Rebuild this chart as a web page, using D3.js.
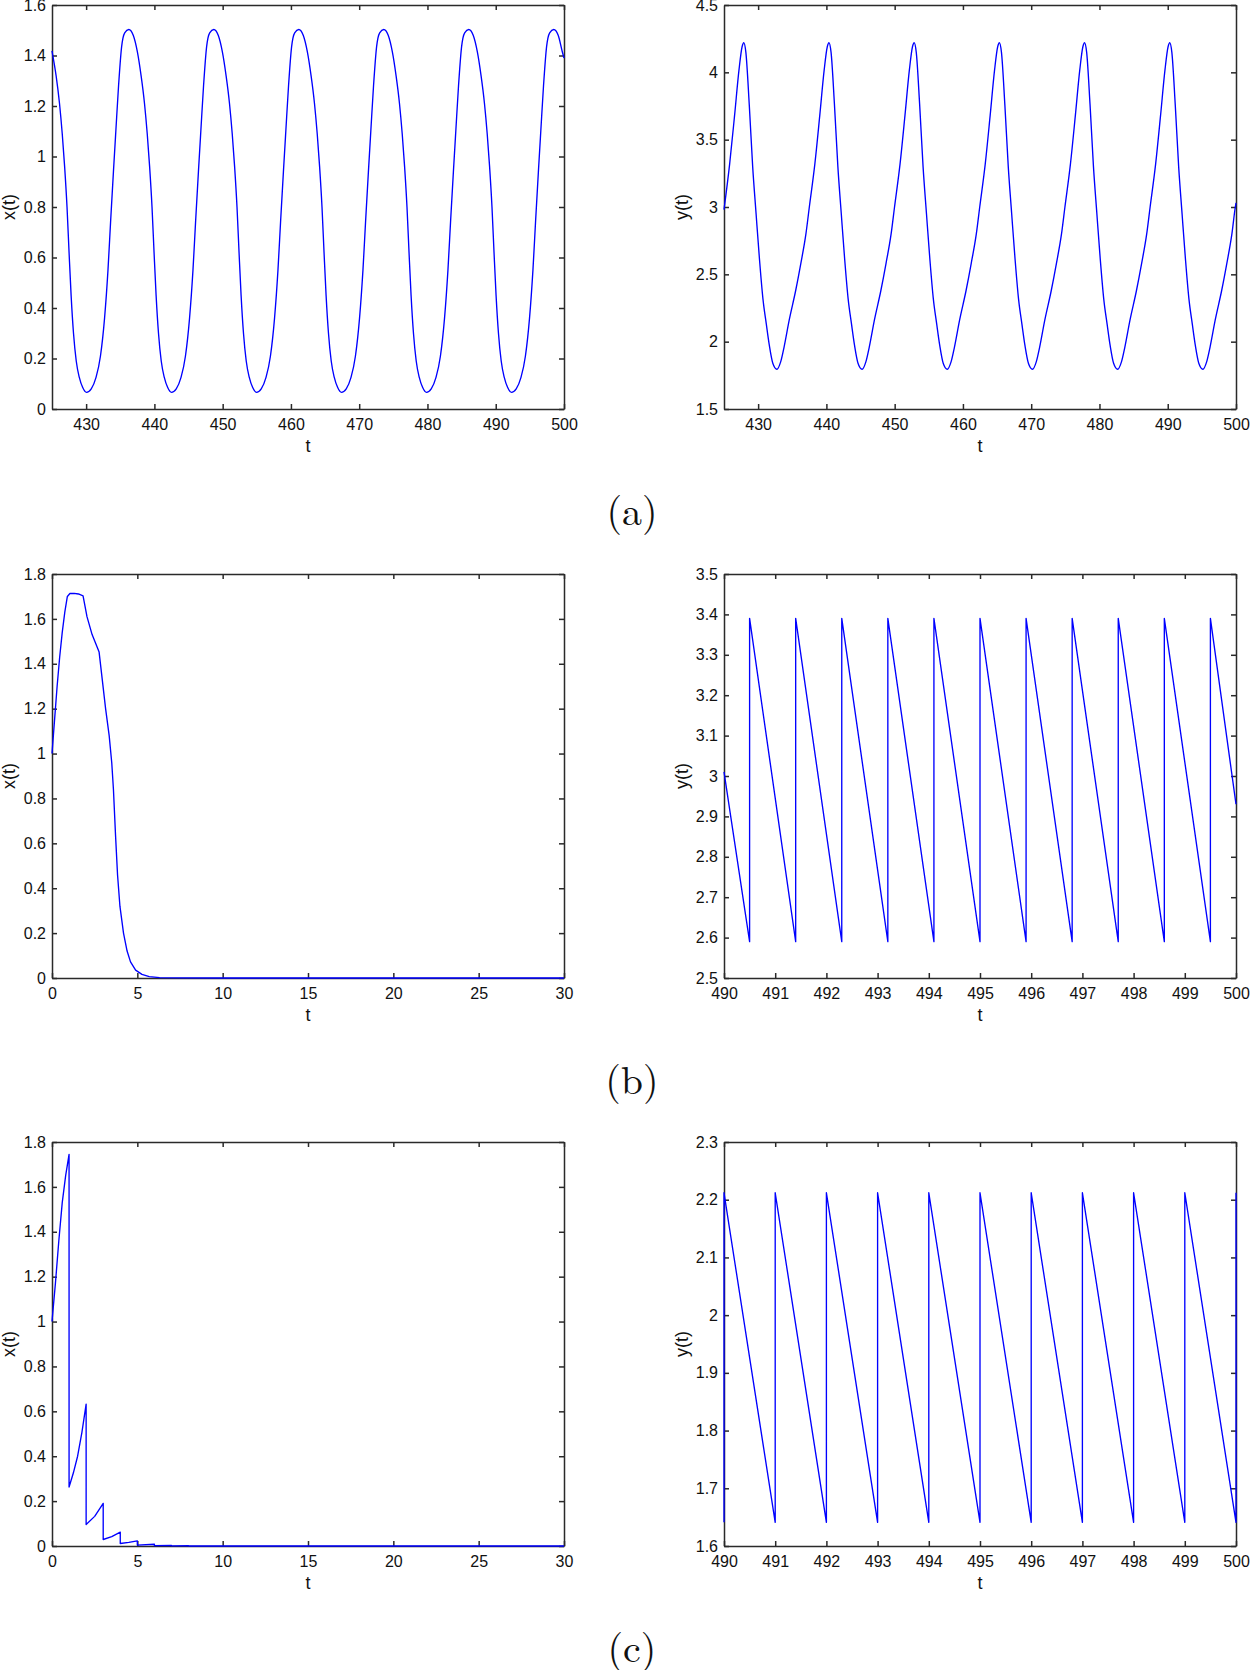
<!DOCTYPE html>
<html>
<head>
<meta charset="utf-8">
<script src="https://cdn.jsdelivr.net/npm/d3@7"></script>
<style>
body { margin: 0; background: #fff; }
.tick text { font-family: "Liberation Sans", Arial, sans-serif; font-size: 16px; fill: #111; }
.axis-label { font-family: "Liberation Sans", Arial, sans-serif; font-size: 18px; fill: #111; }
.sub-label { font-family: "Latin Modern Roman", "CMU Serif", "Liberation Serif", serif; font-size: 40px; fill: #111; }
</style>
</head>
<body>
<div id="chart"></div>
<script>
////////////////////////////////////////////////////////////////////////////////////////
// Canvas
var svgWidth = 1250;
var svgHeight = 1670;
var plotWidth = 512;
var plotHeight = 404;
var colLeft = [52, 724];
var rowTop = [5, 574, 1142];

////////////////////////////////////////////////////////////////////////////////////////
// Data: [t, value]

// (a) x(t), 425..500
var aX = [
  [425,1.418],[425.6,1.32],[426.1,1.21],[426.5,1.09],[426.85,0.96],[427.2,0.80],[427.5,0.62],[427.8,0.45],[428.15,0.30],[428.55,0.19],[429.0,0.125],[429.5,0.085],
  [430.05,0.066],[430.75,0.08],[431.45,0.125],[432.1,0.21],[432.7,0.36],[433.2,0.55],[433.6,0.75],[434.0,0.94],[434.35,1.10],[434.75,1.28],[435.2,1.435],[435.65,1.49],[436.25,1.503],[436.9,1.48],[437.5,1.415],[438.05,1.32],[438.55,1.21],[438.95,1.09],[439.3,0.96],[439.65,0.80],[439.95,0.62],[440.25,0.45],[440.6,0.30],[441.0,0.19],[441.45,0.125],[441.95,0.085],
  [442.5,0.066],[443.2,0.08],[443.9,0.125],[444.55,0.21],[445.15,0.36],[445.65,0.55],[446.05,0.75],[446.45,0.94],[446.8,1.10],[447.2,1.28],[447.65,1.435],[448.1,1.49],[448.7,1.503],[449.35,1.48],[449.95,1.415],[450.5,1.32],[451.0,1.21],[451.4,1.09],[451.75,0.96],[452.1,0.80],[452.4,0.62],[452.7,0.45],[453.05,0.30],[453.45,0.19],[453.9,0.125],[454.4,0.085],
  [454.95,0.066],[455.65,0.08],[456.35,0.125],[457.0,0.21],[457.6,0.36],[458.1,0.55],[458.5,0.75],[458.9,0.94],[459.25,1.10],[459.65,1.28],[460.1,1.435],[460.55,1.49],[461.15,1.503],[461.8,1.48],[462.4,1.415],[462.95,1.32],[463.45,1.21],[463.85,1.09],[464.2,0.96],[464.55,0.80],[464.85,0.62],[465.15,0.45],[465.5,0.30],[465.9,0.19],[466.35,0.125],[466.85,0.085],
  [467.4,0.066],[468.1,0.08],[468.8,0.125],[469.45,0.21],[470.05,0.36],[470.55,0.55],[470.95,0.75],[471.35,0.94],[471.7,1.10],[472.1,1.28],[472.55,1.435],[473.0,1.49],[473.6,1.503],[474.25,1.48],[474.85,1.415],[475.4,1.32],[475.9,1.21],[476.3,1.09],[476.65,0.96],[477.0,0.80],[477.3,0.62],[477.6,0.45],[477.95,0.30],[478.35,0.19],[478.8,0.125],[479.3,0.085],
  [479.85,0.066],[480.55,0.08],[481.25,0.125],[481.9,0.21],[482.5,0.36],[483.0,0.55],[483.4,0.75],[483.8,0.94],[484.15,1.10],[484.55,1.28],[485.0,1.435],[485.45,1.49],[486.05,1.503],[486.7,1.48],[487.3,1.415],[487.85,1.32],[488.35,1.21],[488.75,1.09],[489.1,0.96],[489.45,0.80],[489.75,0.62],[490.05,0.45],[490.4,0.30],[490.8,0.19],[491.25,0.125],[491.75,0.085],
  [492.3,0.066],[493.0,0.08],[493.7,0.125],[494.35,0.21],[494.95,0.36],[495.45,0.55],[495.85,0.75],[496.25,0.94],[496.6,1.10],[497.0,1.28],[497.45,1.435],[497.9,1.49],[498.5,1.503],[499.15,1.48],[499.75,1.415],[500,1.39]
];

// (a) y(t), 425..500
var aY = [
  [425,2.98],[425.83,3.32],[426.55,3.68],[427.2,4.02],[427.65,4.19],
  [427.9,4.22],[428.2,4.15],[428.7,3.76],[429.2,3.30],[429.7,2.95],[430.2,2.61],[430.7,2.32],[431.2,2.13],[431.65,1.97],[432.15,1.84],[432.75,1.795],[433.3,1.85],[433.8,1.96],[434.55,2.16],[435.5,2.38],[436.25,2.58],[437.0,2.80],[437.5,3.0],[438.31,3.32],[439.03,3.68],[439.68,4.02],[440.13,4.19],
  [440.38,4.22],[440.68,4.15],[441.18,3.76],[441.68,3.30],[442.18,2.95],[442.68,2.61],[443.18,2.32],[443.68,2.13],[444.13,1.97],[444.63,1.84],[445.23,1.795],[445.78,1.85],[446.28,1.96],[447.03,2.16],[447.98,2.38],[448.73,2.58],[449.48,2.80],[449.98,3.0],[450.79,3.32],[451.51,3.68],[452.16,4.02],[452.61,4.19],
  [452.86,4.22],[453.16,4.15],[453.66,3.76],[454.16,3.30],[454.66,2.95],[455.16,2.61],[455.66,2.32],[456.16,2.13],[456.61,1.97],[457.11,1.84],[457.71,1.795],[458.26,1.85],[458.76,1.96],[459.51,2.16],[460.46,2.38],[461.21,2.58],[461.96,2.80],[462.46,3.0],[463.27,3.32],[463.99,3.68],[464.64,4.02],[465.09,4.19],
  [465.34,4.22],[465.64,4.15],[466.14,3.76],[466.64,3.30],[467.14,2.95],[467.64,2.61],[468.14,2.32],[468.64,2.13],[469.09,1.97],[469.59,1.84],[470.19,1.795],[470.74,1.85],[471.24,1.96],[471.99,2.16],[472.94,2.38],[473.69,2.58],[474.44,2.80],[474.94,3.0],[475.75,3.32],[476.47,3.68],[477.12,4.02],[477.57,4.19],
  [477.82,4.22],[478.12,4.15],[478.62,3.76],[479.12,3.30],[479.62,2.95],[480.12,2.61],[480.62,2.32],[481.12,2.13],[481.57,1.97],[482.07,1.84],[482.67,1.795],[483.22,1.85],[483.72,1.96],[484.47,2.16],[485.42,2.38],[486.17,2.58],[486.92,2.80],[487.42,3.0],[488.23,3.32],[488.95,3.68],[489.6,4.02],[490.05,4.19],
  [490.3,4.22],[490.6,4.15],[491.1,3.76],[491.6,3.30],[492.1,2.95],[492.6,2.61],[493.1,2.32],[493.6,2.13],[494.05,1.97],[494.55,1.84],[495.15,1.795],[495.7,1.85],[496.2,1.96],[496.95,2.16],[497.9,2.38],[498.65,2.58],[499.4,2.80],[499.9,3.0],[500,3.03]
];

// (b) x(t), 0..30
var bX = [
  [0,1.0],[0.15,1.15],[0.3,1.30],[0.45,1.43],[0.6,1.54],[0.75,1.63],[0.9,1.70],[1.05,1.713],[1.3,1.714],[1.55,1.711],[1.82,1.703],
  [2.05,1.61],[2.35,1.53],[2.76,1.452],[3.14,1.2],[3.35,1.08],[3.5,0.96],[3.6,0.84],[3.72,0.64],[3.84,0.46],
  [3.98,0.32],[4.19,0.2],[4.4,0.12],[4.6,0.072],[4.9,0.035],[5.27,0.016],[5.7,0.006],[6.3,0.002],
  [7.5,0.0003],[10,0],[30,0]
];

// (b) y(t), 490..500
var bY = [
  [490,3.01],[490.5,2.59],[490.5,3.39],[491.4,2.59],[491.4,3.39],[492.3,2.59],[492.3,3.39],
  [493.2,2.59],[493.2,3.39],[494.1,2.59],[494.1,3.39],[495,2.59],[495,3.39],[495.9,2.59],[495.9,3.39],
  [496.8,2.59],[496.8,3.39],[497.7,2.59],[497.7,3.39],[498.6,2.59],[498.6,3.39],[499.5,2.59],[499.5,3.39],
  [500,2.93]
];

// (c) x(t), 0..30
var cX = [
  [0,1.0],[0.2,1.17],[0.4,1.36],[0.6,1.53],[0.8,1.65],[1,1.745],
  [1,0.263],[1.25,0.325],[1.5,0.40],[1.75,0.505],[2,0.632],
  [2,0.096],[2.5,0.132],[3,0.19],
  [3,0.029],[3.5,0.042],[4,0.062],
  [4,0.011],[4.5,0.016],[5,0.023],
  [5,0.004],[6,0.008],
  [6,0.0015],[7,0.003],
  [7,0.0005],[8,0.001],
  [8,0.0002],[30,0]
];

// (c) y(t), 490..500
var cY = [
  [490,1.641],[490,2.212],[491,1.641],[491,2.212],[492,1.641],[492,2.212],[493,1.641],[493,2.212],
  [494,1.641],[494,2.212],[495,1.641],[495,2.212],[496,1.641],[496,2.212],[497,1.641],[497,2.212],
  [498,1.641],[498,2.212],[499,1.641],[499,2.212],[500,1.641],[500,2.212]
];

// Tick values
var ticksLate = [430, 440, 450, 460, 470, 480, 490, 500];
var ticksEarly = [0, 5, 10, 15, 20, 25, 30];
var ticksLast = [490, 491, 492, 493, 494, 495, 496, 497, 498, 499, 500];
var ticksX = [0, 0.2, 0.4, 0.6, 0.8, 1, 1.2, 1.4, 1.6, 1.8];
var ticksXa = [0, 0.2, 0.4, 0.6, 0.8, 1, 1.2, 1.4, 1.6];
var ticksYa = [1.5, 2, 2.5, 3, 3.5, 4, 4.5];
var ticksYb = [2.5, 2.6, 2.7, 2.8, 2.9, 3, 3.1, 3.2, 3.3, 3.4, 3.5];
var ticksYc = [1.6, 1.7, 1.8, 1.9, 2, 2.1, 2.2, 2.3];

var subLabels = ["(a)", "(b)", "(c)"];

////////////////////////////////////////////////////////////////////////////////////////
var svg = d3.select("#chart").append("svg").attr("width", svgWidth).attr("height", svgHeight);
svg.append("rect").attr("width", svgWidth).attr("height", svgHeight).attr("fill", "#fff");

function drawPanel(p) {
    var g = svg.append("g").attr("transform", `translate(${p.left}, ${p.top})`);

    var x = d3.scaleLinear().domain(p.xDomain).range([0, plotWidth]);
    var y = d3.scaleLinear().domain(p.yDomain).range([plotHeight, 0]);

    // Box with inward ticks on all four sides
    var bottom = g.append("g").attr("transform", `translate(0, ${plotHeight})`)
        .call(d3.axisBottom(x).tickValues(p.xTicks).tickFormat(d => String(d))
            .tickSizeInner(-5).tickSizeOuter(0).tickPadding(10));
    var top = g.append("g")
        .call(d3.axisTop(x).tickValues(p.xTicks).tickFormat("").tickSizeInner(-5).tickSizeOuter(0));
    var left = g.append("g")
        .call(d3.axisLeft(y).tickValues(p.yTicks).tickFormat(d => String(d))
            .tickSizeInner(-5).tickSizeOuter(0).tickPadding(6));
    var right = g.append("g").attr("transform", `translate(${plotWidth}, 0)`)
        .call(d3.axisRight(y).tickValues(p.yTicks).tickFormat("").tickSizeInner(-5).tickSizeOuter(0));

    [bottom, top, left, right].forEach(function (a) {
        a.style("color", "#2a2a2a");
        a.selectAll("path, line").attr("stroke-width", 1.5);
    });

    // Axis labels
    g.append("text").attr("class", "axis-label")
        .attr("x", plotWidth / 2).attr("y", plotHeight + 43)
        .attr("text-anchor", "middle").text("t");
    g.append("text").attr("class", "axis-label")
        .attr("transform", `translate(${p.yLabelX}, ${plotHeight / 2}) rotate(-90)`)
        .attr("dy", "0.35em").attr("text-anchor", "middle").text(p.yLabel);

    // Curve
    var clipId = "clip-" + p.id;
    g.append("clipPath").attr("id", clipId).append("rect")
        .attr("x", -1.5).attr("y", -1.5).attr("width", plotWidth + 3).attr("height", plotHeight + 3);

    var line = d3.line().x(d => x(d[0])).y(d => y(d[1])).curve(p.curve);
    g.append("path").datum(p.data)
        .attr("clip-path", `url(#${clipId})`)
        .attr("fill", "none")
        .attr("stroke", "#0000ff")
        .attr("stroke-width", 1.35)
        .attr("stroke-linejoin", "round")
        .attr("d", line);
}

drawPanel({id: "aL", left: colLeft[0], top: rowTop[0], xDomain: [425, 500], yDomain: [0, 1.6],
    xTicks: ticksLate, yTicks: ticksXa, yLabel: "x(t)", yLabelX: -43, data: aX, curve: d3.curveMonotoneX});
drawPanel({id: "aR", left: colLeft[1], top: rowTop[0], xDomain: [425, 500], yDomain: [1.5, 4.5],
    xTicks: ticksLate, yTicks: ticksYa, yLabel: "y(t)", yLabelX: -42, data: aY, curve: d3.curveMonotoneX});
drawPanel({id: "bL", left: colLeft[0], top: rowTop[1], xDomain: [0, 30], yDomain: [0, 1.8],
    xTicks: ticksEarly, yTicks: ticksX, yLabel: "x(t)", yLabelX: -43, data: bX, curve: d3.curveLinear});
drawPanel({id: "bR", left: colLeft[1], top: rowTop[1], xDomain: [490, 500], yDomain: [2.5, 3.5],
    xTicks: ticksLast, yTicks: ticksYb, yLabel: "y(t)", yLabelX: -42, data: bY, curve: d3.curveLinear});
drawPanel({id: "cL", left: colLeft[0], top: rowTop[2], xDomain: [0, 30], yDomain: [0, 1.8],
    xTicks: ticksEarly, yTicks: ticksX, yLabel: "x(t)", yLabelX: -43, data: cX, curve: d3.curveLinear});
drawPanel({id: "cR", left: colLeft[1], top: rowTop[2], xDomain: [490, 500], yDomain: [1.6, 2.3],
    xTicks: ticksLast, yTicks: ticksYc, yLabel: "y(t)", yLabelX: -42, data: cY, curve: d3.curveLinear});

// Sub-figure captions
subLabels.forEach(function (s, i) {
    svg.append("text").attr("class", "sub-label")
        .attr("x", 632).attr("y", rowTop[i] + 520)
        .attr("text-anchor", "middle").text(s);
});
</script>
</body>
</html>
